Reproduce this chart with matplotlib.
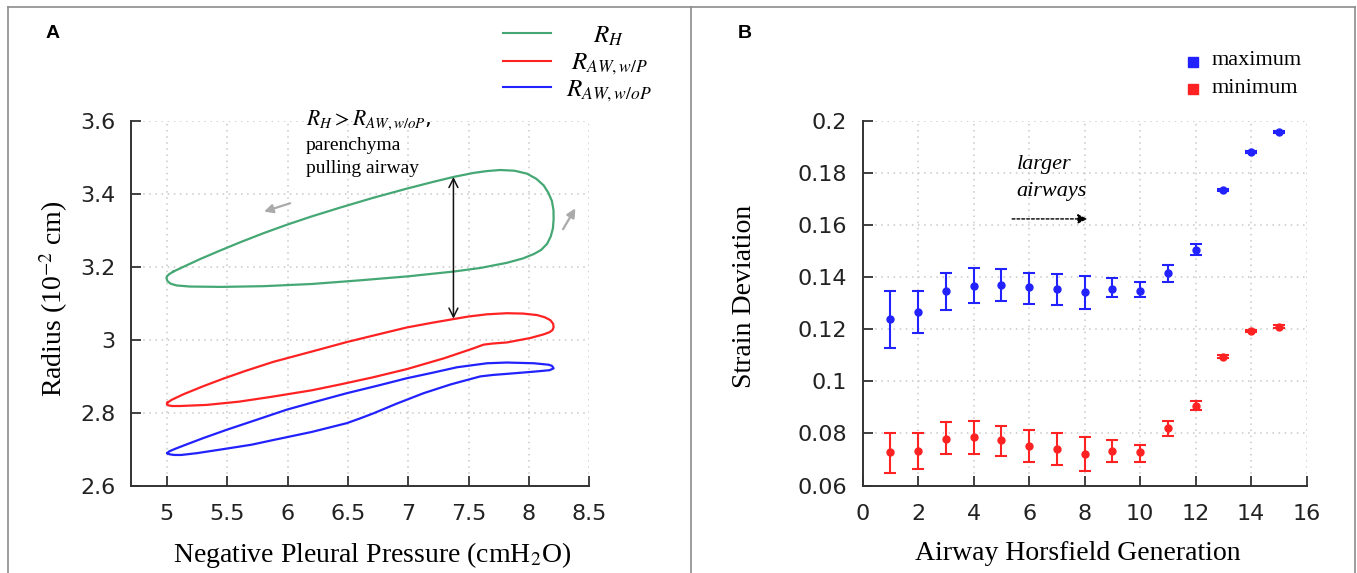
import matplotlib
matplotlib.use("Agg")
import matplotlib.pyplot as plt
from matplotlib.lines import Line2D
import numpy as np

plt.rcParams["mathtext.fontset"] = "stix"

# ---------------- Panel A: pressure-radius hysteresis loops ----------------
rh_pressure = [5.053, 5.15, 5.274, 5.43, 5.606, 5.8, 5.993, 6.2, 6.435, 6.7, 6.988, 7.2,
               7.375, 7.541, 7.65, 7.762, 7.88, 7.983, 8.06, 8.121, 8.16, 8.19, 8.203,
               8.204, 8.198, 8.18, 8.15, 8.1, 8.04, 7.95, 7.817, 7.6, 7.375, 7.0, 6.6,
               6.2, 5.8, 5.45, 5.19, 5.08, 5.03, 5.005, 4.997, 5.0, 5.02, 5.053]
rh_radius = [3.187, 3.202, 3.221, 3.243, 3.267, 3.292, 3.315, 3.338, 3.362, 3.388, 3.414,
             3.432, 3.446, 3.457, 3.462, 3.465, 3.463, 3.455, 3.441, 3.423, 3.403, 3.380,
             3.355, 3.330, 3.305, 3.283, 3.263, 3.246, 3.235, 3.223, 3.211, 3.197, 3.187,
             3.174, 3.163, 3.153, 3.147, 3.145, 3.146, 3.149, 3.154, 3.161, 3.168, 3.174,
             3.180, 3.187]

rwp_pressure = [5.004, 5.04, 5.136, 5.3, 5.468, 5.65, 5.883, 6.2, 6.49, 6.75, 6.988, 7.2,
                7.375, 7.5, 7.652, 7.817, 7.95, 8.066, 8.13, 8.177, 8.2, 8.204, 8.195,
                8.17, 8.12, 8.01, 7.817, 7.7, 7.624, 7.541, 7.3, 6.988, 6.7, 6.435, 6.2,
                5.883, 5.6, 5.33, 5.109, 5.04, 5.01, 5.0, 5.004]
rwp_radius = [2.828, 2.836, 2.851, 2.873, 2.894, 2.915, 2.940, 2.968, 2.994, 3.015, 3.034,
              3.047, 3.057, 3.064, 3.070, 3.073, 3.072, 3.068, 3.062, 3.054, 3.044, 3.035,
              3.027, 3.021, 3.015, 3.005, 2.993, 2.990, 2.987, 2.977, 2.950, 2.920, 2.897,
              2.878, 2.862, 2.845, 2.831, 2.822, 2.819, 2.819, 2.821, 2.824, 2.828]

rwop_pressure = [5.004, 5.02, 5.06, 5.12, 5.25, 5.468, 5.7, 5.883, 6.2, 6.49, 6.6, 6.712,
                 6.9, 7.126, 7.35, 7.596, 7.7, 7.817, 8.04, 8.17, 8.204, 8.19, 8.163,
                 8.04, 7.817, 7.652, 7.403, 7.2, 6.988, 6.75, 6.49, 6.2, 5.993, 5.75,
                 5.496, 5.3, 5.164, 5.07, 5.02, 5.004]
rwop_radius = [2.690, 2.687, 2.685, 2.685, 2.690, 2.701, 2.713, 2.726, 2.748, 2.772, 2.785,
               2.799, 2.825, 2.854, 2.878, 2.900, 2.904, 2.907, 2.913, 2.917, 2.922, 2.929,
               2.932, 2.936, 2.938, 2.936, 2.925, 2.910, 2.895, 2.875, 2.854, 2.828, 2.809,
               2.782, 2.754, 2.731, 2.714, 2.702, 2.695, 2.690]

a_xticks = [5, 5.5, 6, 6.5, 7, 7.5, 8, 8.5]
a_xticklabels = ["5", "5.5", "6", "6.5", "7", "7.5", "8", "8.5"]
a_yticks = [2.6, 2.8, 3.0, 3.2, 3.4, 3.6]
a_yticklabels = ["2.6", "2.8", "3", "3.2", "3.4", "3.6"]

# ---------------- Panel B: strain deviation by generation ----------------
generation = [1, 2, 3, 4, 5, 6, 7, 8, 9, 10, 11, 12, 13, 14, 15]
max_mean = [0.1239, 0.1267, 0.1348, 0.1366, 0.1371, 0.1361, 0.1354, 0.1342, 0.1354,
            0.1348, 0.1417, 0.1504, 0.1734, 0.1879, 0.1958]
max_low = [0.1129, 0.1187, 0.1274, 0.1302, 0.1308, 0.1297, 0.1292, 0.1279, 0.1323,
           0.1323, 0.1382, 0.1485, 0.1730, 0.1875, 0.1954]
max_high = [0.1348, 0.1348, 0.1417, 0.1436, 0.1430, 0.1417, 0.1412, 0.1405, 0.1395,
            0.1382, 0.1447, 0.1526, 0.1738, 0.1883, 0.1962]
min_mean = [0.0728, 0.0733, 0.0779, 0.0786, 0.0773, 0.0752, 0.0740, 0.0721, 0.0733,
            0.0728, 0.0820, 0.0906, 0.1095, 0.1193, 0.1210]
min_low = [0.0647, 0.0664, 0.0721, 0.0721, 0.0715, 0.0692, 0.0677, 0.0657, 0.0692,
           0.0692, 0.0791, 0.0890, 0.1091, 0.1189, 0.1206]
min_high = [0.0801, 0.0801, 0.0842, 0.0848, 0.0830, 0.0812, 0.0801, 0.0786, 0.0773,
            0.0756, 0.0848, 0.0924, 0.1099, 0.1197, 0.1214]

b_xticks = [0, 2, 4, 6, 8, 10, 12, 14, 16]
b_yticks = [0.06, 0.08, 0.10, 0.12, 0.14, 0.16, 0.18, 0.20]
b_yticklabels = ["0.06", "0.08", "0.1", "0.12", "0.14", "0.16", "0.18", "0.2"]

GREEN = "#45a874"
RED = "#ff2222"
BLUE = "#2222ff"
SPINE = "#333333"
SERIF = ["Liberation Serif", "DejaVu Serif"]

fig = plt.figure(figsize=(13.57, 5.73), dpi=100)


def style_axes(ax):
    for side in ("top", "right"):
        ax.spines[side].set_visible(False)
    for side in ("left", "bottom"):
        ax.spines[side].set_color(SPINE)
        ax.spines[side].set_linewidth(1.4)
    ax.tick_params(direction="in", length=7, width=1.3, color=SPINE,
                   labelsize=16, labelcolor="#222222")
    ax.tick_params(axis="x", pad=13)
    ax.tick_params(axis="y", pad=11)
    ax.grid(True, color="#c8c8c8", linestyle=(0, (1, 3)), linewidth=1.1)
    ax.set_axisbelow(True)


# ---- Panel A ----
axA = fig.add_axes([0.0963, 0.1518, 0.3380, 0.6376])
style_axes(axA)
axA.plot(rh_pressure, rh_radius, color=GREEN, lw=1.6, solid_joinstyle="round")
axA.plot(rwp_pressure, rwp_radius, color=RED, lw=1.6, solid_joinstyle="round")
axA.plot(rwop_pressure, rwop_radius, color=BLUE, lw=1.6, solid_joinstyle="round")
axA.set_xlim(4.70, 8.5)
axA.set_ylim(2.6, 3.6)
axA.set_xticks(a_xticks)
axA.set_xticklabels(a_xticklabels)
axA.set_yticks(a_yticks)
axA.set_yticklabels(a_yticklabels)
axA.set_xlabel("Negative Pleural Pressure (cmH$_2$O)", family=SERIF, fontsize=20,
               va="center")
axA.xaxis.set_label_coords(0.526, -0.189)
axA.set_ylabel("Radius (10$^{-2}$ cm)", family=SERIF, fontsize=20, va="center")
axA.yaxis.set_label_coords(-0.167, 0.512)

# vertical double arrow between the two radii
axA.annotate("", xy=(7.374, 3.446), xytext=(7.374, 3.058),
             arrowprops=dict(arrowstyle="<->", color="#111111", lw=1.1,
                             mutation_scale=16, shrinkA=0, shrinkB=0))
# direction-of-travel arrows
axA.annotate("", xy=(5.805, 3.351), xytext=(6.021, 3.374),
             arrowprops=dict(arrowstyle="-|>", color="#aaaaaa", lw=1.6,
                             mutation_scale=13, shrinkA=0, shrinkB=0))
axA.annotate("", xy=(8.384, 3.360), xytext=(8.282, 3.303),
             arrowprops=dict(arrowstyle="-|>", color="#aaaaaa", lw=1.6,
                             mutation_scale=13, shrinkA=0, shrinkB=0))

axA.text(6.151, 3.602, r"$R_H > R_{AW,w/oP}$,", fontsize=15.5, va="center", ha="left",
         clip_on=False)
axA.text(6.151, 3.533, "parenchyma", family=SERIF, fontsize=14, va="center",
         ha="left", clip_on=False)
axA.text(6.151, 3.468, "pulling airway", family=SERIF, fontsize=14, va="center",
         ha="left", clip_on=False)

# legend for panel A
legend_a = [(GREEN, r"$R_H$", 0.9419, 0.9377),
            (RED, r"$R_{AW,w/P}$", 0.8935, 0.887),
            (BLUE, r"$R_{AW,w/oP}$", 0.8476, 0.840)]
for color, label, yl, yt in legend_a:
    fig.add_artist(Line2D([0.3709, 0.4058], [yl, yl], color=color, lw=1.5,
                          transform=fig.transFigure))
    fig.text(0.4488, yt, label, fontsize=18, ha="center", va="center")

# ---- Panel B ----
axB = fig.add_axes([0.6356, 0.1527, 0.3273, 0.6367])
style_axes(axB)
max_err = [np.array(max_mean) - np.array(max_low), np.array(max_high) - np.array(max_mean)]
min_err = [np.array(min_mean) - np.array(min_low), np.array(min_high) - np.array(min_mean)]
axB.errorbar(generation, max_mean, yerr=max_err, fmt="o", color=BLUE, ms=5,
             elinewidth=1.5, capsize=4.5, capthick=1.5)
axB.errorbar(generation, min_mean, yerr=min_err, fmt="o", color=RED, ms=5,
             elinewidth=1.5, capsize=4.5, capthick=1.5)
axB.set_xlim(0, 16)
axB.set_ylim(0.06, 0.2)
axB.set_xticks(b_xticks)
axB.set_yticks(b_yticks)
axB.set_yticklabels(b_yticklabels)
axB.set_xlabel("Airway Horsfield Generation", family=SERIF, fontsize=20, va="center")
axB.xaxis.set_label_coords(0.484, -0.186)
axB.set_ylabel("Strain Deviation", family=SERIF, fontsize=20, va="center")
axB.yaxis.set_label_coords(-0.265, 0.518)

axB.text(5.55, 0.1832, "larger", family=SERIF, style="italic", fontsize=16,
         va="center", ha="left")
axB.text(5.55, 0.1727, "airways", family=SERIF, style="italic", fontsize=16,
         va="center", ha="left")
axB.annotate("", xy=(8.10, 0.1623), xytext=(5.39, 0.1623),
             arrowprops=dict(arrowstyle="-|>", color="black", lw=1.0,
                             linestyle=(0, (2, 1.5)), mutation_scale=14,
                             shrinkA=0, shrinkB=0))

# legend for panel B
fig.add_artist(Line2D([0.8788], [0.8923], marker="s", ms=7, color=BLUE, lw=0,
                      transform=fig.transFigure))
fig.add_artist(Line2D([0.8788], [0.8447], marker="s", ms=7, color=RED, lw=0,
                      transform=fig.transFigure))
fig.text(0.8931, 0.8940, "maximum", family=SERIF, fontsize=16, va="center", ha="left")
fig.text(0.8931, 0.8464, "minimum", family=SERIF, fontsize=16, va="center", ha="left")

# panel letters
fig.text(0.039, 0.942, "A", family=["Liberation Sans"], weight="bold", fontsize=14,
         ha="center", va="center")
fig.text(0.5486, 0.942, "B", family=["Liberation Sans"], weight="bold", fontsize=14,
         ha="center", va="center")

# outer frame lines
frame = "#8c8c8c"
fig.add_artist(Line2D([0.0058, 0.0058], [0.0, 0.9878], color=frame, lw=1.2,
                      transform=fig.transFigure))
fig.add_artist(Line2D([0.0058, 0.9985], [0.9878, 0.9878], color=frame, lw=1.2,
                      transform=fig.transFigure))
fig.add_artist(Line2D([0.9985, 0.9985], [0.0, 0.9878], color=frame, lw=1.2,
                      transform=fig.transFigure))
fig.add_artist(Line2D([0.5091, 0.5091], [0.0, 0.9878], color=frame, lw=1.2,
                      transform=fig.transFigure))

fig.savefig("out.png", dpi=100)
